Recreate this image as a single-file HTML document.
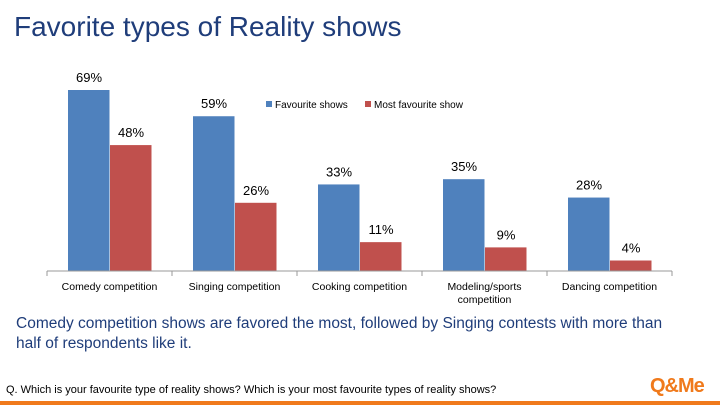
<!DOCTYPE html>
<html><head><meta charset="utf-8"><style>
body{margin:0;width:720px;height:405px;background:#fff;font-family:"Liberation Sans",Arial,sans-serif;overflow:hidden;position:relative}
.t{position:absolute;left:14px;top:11px;font-size:28px;color:#1f3d7a}
.note{position:absolute;left:16px;top:314px;width:674px;font-size:15.5px;line-height:20px;color:#1f3d7a}
.q{position:absolute;left:6px;top:384px;font-size:11px;color:#000}
</style></head><body>
<div class="t">Favorite types of Reality shows</div>
<svg id="c" width="720" height="405" style="position:absolute;left:0;top:0"></svg>
<div class="note">Comedy competition shows are favored the most, followed by Singing contests with more than half of respondents like it.</div>
<div class="q">Q. Which is your favourite type of reality shows? Which is your most favourite types of reality shows?</div>
<div style="position:absolute;left:650px;top:375px;font-size:20px;font-weight:bold;color:#f07a1c;letter-spacing:-1px">Q&amp;Me</div>
<div style="position:absolute;left:0;top:401px;width:720px;height:4px;background:#f07a1c"></div>
<script>
const categories=[["Comedy competition"],["Singing competition"],["Cooking competition"],["Modeling/sports","competition"],["Dancing competition"]];
const favourite=[69,59,33,35,28];
const most=[48,26,11,9,4];
const svg=document.getElementById('c');const NS='http://www.w3.org/2000/svg';
const x0=47,cw=125,base=271,k=181/69;
const y=v=>base-v*k;
function mk(t,a){const e=document.createElementNS(NS,t);for(const n in a)e.setAttribute(n,a[n]);svg.appendChild(e);return e;}
function bars(vals,off,col,nm){vals.forEach((v,i)=>{const bx=x0+i*cw+off;
const r=mk('rect',{x:bx,y:y(v),width:41.5,height:v*k,fill:col});


const t=mk('text',{x:bx+21,y:y(v)-8,'text-anchor':'middle','font-size':13,fill:'#000'});t.textContent=v+'%';

});}
bars(favourite,21,'#4f81bd','favourite');bars(most,63,'#c0504d','most-favourite');
const ax=mk('line',{x1:x0,x2:x0+5*cw,y1:base,y2:base,stroke:'#999'});


for(let i=0;i<=5;i++)mk('line',{x1:x0+i*cw,x2:x0+i*cw,y1:base,y2:base+5,stroke:'#999'});
categories.forEach((c,i)=>c.forEach((s,j)=>{const t=mk('text',{x:x0+i*cw+cw/2,y:base+19+j*13,'text-anchor':'middle','font-size':10.5,fill:'#000'});t.textContent=s;

}));
[['#4f81bd','Favourite shows',266],['#c0504d','Most favourite show',365]].forEach(([c,l,lx])=>{
const r=mk('rect',{x:lx,y:101,width:6,height:6,fill:c});


const t=mk('text',{x:lx+9,y:108,'font-size':10,fill:'#000'});t.textContent=l;

});
</script>
</body></html>
